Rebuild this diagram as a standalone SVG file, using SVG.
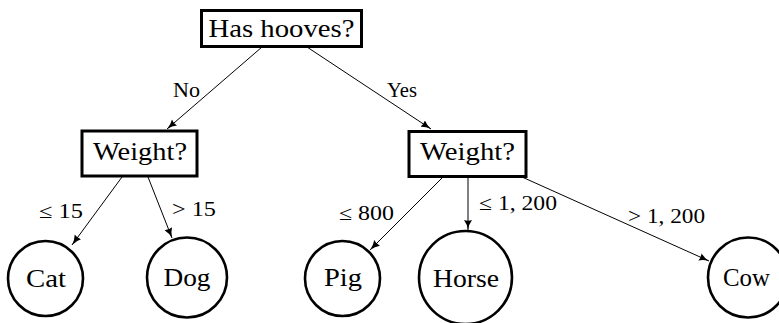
<svg xmlns="http://www.w3.org/2000/svg" width="779" height="323" viewBox="0 0 779 323" font-family="Liberation Serif">
<defs>
<marker id="arr" markerUnits="userSpaceOnUse" markerWidth="12" markerHeight="10" refX="10" refY="4" orient="auto">
<path d="M0,0 Q4,3 10,4 Q4,5 0,8 Q1.5,4 0,0 Z" fill="#000"/>
</marker>
<style>
.box{fill:#fff;stroke:#000;stroke-width:3}
.circ{fill:#fff;stroke:#000;stroke-width:2.6}
.edge{stroke:#000;stroke-width:1;fill:none;marker-end:url(#arr)}
.nt{font-size:25px;fill:#000;text-anchor:middle}
.lb{font-size:20px;fill:#000}
</style>
</defs>
<rect width="779" height="323" fill="#fff"/>
<g id="connectors">
<line class="edge" x1="262" y1="47" x2="167" y2="129"/>
<line class="edge" x1="307" y1="47" x2="431" y2="129"/>
<line class="edge" x1="122" y1="177" x2="72" y2="245"/>
<line class="edge" x1="148" y1="177" x2="172" y2="238"/>
<line class="edge" x1="443" y1="177" x2="370" y2="250"/>
<line class="edge" x1="468" y1="177" x2="468" y2="230"/>
<line class="edge" x1="522" y1="177" x2="709" y2="261"/>
<text class="lb" x="173" y="97" font-family="Liberation Serif" textLength="27" lengthAdjust="spacingAndGlyphs">No</text>
<text class="lb" x="387" y="97" font-family="Liberation Serif" textLength="30" lengthAdjust="spacingAndGlyphs">Yes</text>
<text class="lb" x="39" y="218" font-family="Liberation Serif" textLength="44" lengthAdjust="spacingAndGlyphs">≤ 15</text>
<text class="lb" x="172" y="216" font-family="Liberation Serif" textLength="44" lengthAdjust="spacingAndGlyphs">&gt; 15</text>
<text class="lb" x="339" y="220" font-family="Liberation Serif" textLength="55" lengthAdjust="spacingAndGlyphs">≤ 800</text>
<text class="lb" x="479" y="210" font-family="Liberation Serif" textLength="78" lengthAdjust="spacingAndGlyphs">≤ 1, 200</text>
<text class="lb" x="628" y="223" font-family="Liberation Serif" textLength="77" lengthAdjust="spacingAndGlyphs">&gt; 1, 200</text>
</g>
<g id="root">
<rect class="box" x="201.5" y="10.5" width="160" height="36"/>
<text class="nt" x="281.5" y="37" font-family="Liberation Serif" textLength="146" lengthAdjust="spacingAndGlyphs">Has hooves?</text>
</g>
<g id="weight-left">
<rect class="box" x="82" y="131" width="115" height="45"/>
<text class="nt" x="140" y="160" font-family="Liberation Serif" textLength="94" lengthAdjust="spacingAndGlyphs">Weight?</text>
</g>
<g id="weight-right">
<rect class="box" x="409" y="131.5" width="117" height="45"/>
<text class="nt" x="467.5" y="160" font-family="Liberation Serif" textLength="95" lengthAdjust="spacingAndGlyphs">Weight?</text>
</g>
<g id="cat">
<circle class="circ" cx="45.5" cy="278.5" r="37.5"/>
<text class="nt" x="46" y="287" font-family="Liberation Serif" textLength="40" lengthAdjust="spacingAndGlyphs">Cat</text>
</g>
<g id="dog">
<circle class="circ" cx="187" cy="277.5" r="40"/>
<text class="nt" x="187" y="286" font-family="Liberation Serif" textLength="47" lengthAdjust="spacingAndGlyphs">Dog</text>
</g>
<g id="pig">
<circle class="circ" cx="342.5" cy="278.5" r="37.5"/>
<text class="nt" x="343" y="286" font-family="Liberation Serif" textLength="38" lengthAdjust="spacingAndGlyphs">Pig</text>
</g>
<g id="horse">
<circle class="circ" cx="465.5" cy="277.5" r="46.5"/>
<text class="nt" x="466" y="287" font-family="Liberation Serif" textLength="66" lengthAdjust="spacingAndGlyphs">Horse</text>
</g>
<g id="cow">
<circle class="circ" cx="748" cy="277.5" r="40"/>
<text class="nt" x="746.5" y="286" font-family="Liberation Serif" textLength="47" lengthAdjust="spacingAndGlyphs">Cow</text>
</g>
</svg>
